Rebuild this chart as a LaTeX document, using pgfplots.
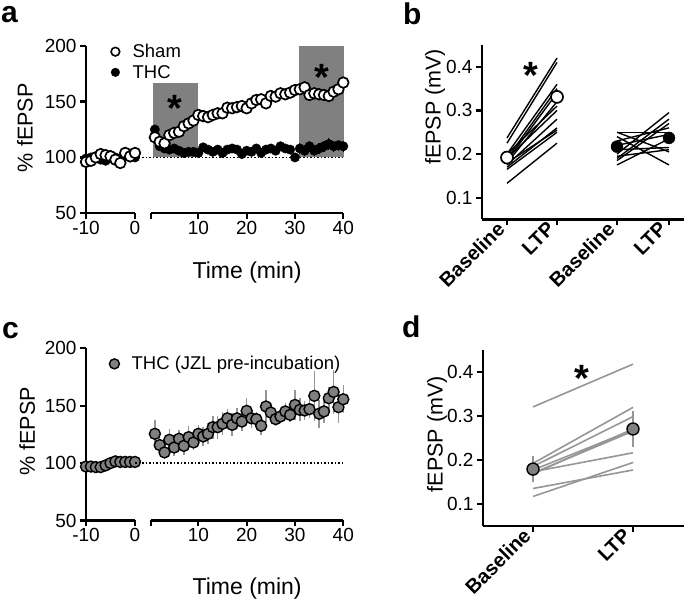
\documentclass[border=0pt]{standalone}
\usepackage{fontspec}
\setmainfont{Liberation Sans}
\usepackage{pgfplots}
\usepackage{pgfplotstable}
\pgfplotsset{compat=1.18}

\definecolor{boxgray}{RGB}{128,128,128}
\definecolor{jzl}{RGB}{128,128,128}
\definecolor{lgray}{RGB}{150,150,150}

% time courses: t, value, sem
\pgfplotstableread{
t y e
-10 96 2
-9 97 2
-8 100 2
-7 103 2
-6 102 2
-5 101 2
-4 98 2
-3 95 2
-2 104 2
-1 101 2
0 104 2
}\shambase
\pgfplotstableread{
t y e
-10 99 2
-9 100 2
-8 101 2
-7 98 2
-6 97 2
-5 102 2
-4 100 2
-3 99 2
-2 101 2
-1 100 2
0 100 2
}\thcbase
\pgfplotstableread{
t y e
1 118 3
2 114 3
3 112.6 3
4 120 3
5 122 3
6 123 3
7 128 3
8 130.5 3
9 133 3
10 138 3
11 137 3
12 136 3
13 138 3
14 139.5 3
15 139.5 4
16 144.5 4
17 144 4
18 145 4
19 146 4
20 144 4
21 148.4 4
22 151.4 4
23 152 4
24 148.4 4
25 155 4
26 154.4 4
27 157.4 4
28 156.5 4
29 158 4
30 160.3 4
31 161 4
32 162.7 4
33 155.9 5
34 157.4 5
35 156.5 5
36 155.9 5
37 155 5
38 158.8 5
39 161 5
40 167 5
}\shampost
\pgfplotstableread{
t y e
1 125 4
2 110 4
3 108 4
4 107 4
5 108 4
6 106 4
7 104 4
8 105 4
9 105 4
10 104 4
11 109 4
12 107 4
13 105 4
14 107 4
15 104 4
16 107 4
17 108 4
18 107 4
19 103 4
20 106 4
21 105 4
22 108 4
23 104 4
24 107 4
25 108 4
26 106 4
27 110 4
28 108 4
29 107 4
30 100 4
31 108 5
32 106 5
33 110 5
34 106 5
35 108 5
36 110 5
37 112 5
38 110 5
39 111 5
40 110 5
}\thcpost
\pgfplotstableread{
t y e
-10 97 1.5
-9 97 1.5
-8 96.5 1.5
-7 96.5 1.5
-6 98 1.5
-5 100 1.5
-4 101.5 1.5
-3 101 1.5
-2 101 1.5
-1 101 1.5
0 101 1.5
}\jzlbase
\pgfplotstableread{
t y e
1 125.5 12
2 115.7 8
3 109.3 6
4 120.3 9
5 113.6 7
6 121.2 8
7 115 8
8 122.6 10
9 118 7
10 125.5 8
11 123.2 8
12 125.5 9
13 131.3 10
14 131.3 10
15 134.2 10
16 139 8
17 133.3 10
18 139 9
19 136.2 8
20 145.5 11
21 139 8
22 138.3 6
23 132.5 8
24 149.3 14
25 144 8
26 138.3 6
27 140.6 6
28 145 7
29 142 6
30 150.7 13
31 146.4 10
32 145.8 8
33 147 8
34 158.6 22
35 143 12
36 145 10
37 156.5 10
38 162 19
39 148.7 14
40 155.6 12
}\jzlpost

\newcommand{\pl}[1]{{\bfseries\fontsize{20}{20}\selectfont #1}}

\pgfplotsset{
  panel/.style={
    scale only axis, clip=false,
    axis x line*=bottom, axis y line*=left,
    axis line style={-, line width=2.2pt, black},
    tick style={line width=2.2pt, black},
    major tick length=6pt,
    tick align=outside,
    ticklabel style={font=\fontsize{19}{21}\selectfont},
    label style={font=\fontsize{21.5}{23}\selectfont},
    xticklabel style={inner sep=2pt},
  },
  pairtick/.style={
    xticklabel style={xshift=-6pt, rotate=45, anchor=east, inner sep=0pt},
  },
  mylegend/.style={
    legend style={draw=none, fill=none, font=\fontsize{18.5}{20}\selectfont,
      row sep=6pt, inner sep=0pt, nodes={inner sep=0pt}},
    legend cell align=left,
  },
  legmark/.style={
    legend image code/.code={\path (0pt,-1pt) (26pt,1pt); \draw[##1] plot coordinates {(9pt,0pt)};},
  },
  sham/.style={only marks, mark=*, mark size=5.3pt,
    mark options={fill=white, draw=black, line width=1.7pt},
    error bars/y dir=both, error bars/y explicit,
    error bars/error bar style={line width=1.3pt, black}, error bars/error mark=none},
  thc/.style={only marks, mark=*, mark size=4.7pt,
    mark options={fill=black, draw=black},
    error bars/y dir=both, error bars/y explicit,
    error bars/error bar style={line width=1.3pt, black}, error bars/error mark=none},
  jzl/.style={only marks, mark=*, mark size=5.5pt,
    mark options={fill=jzl, draw=black, line width=1.4pt},
    error bars/y dir=both, error bars/y explicit,
    error bars/error bar style={line width=1.5pt, lgray}, error bars/error mark=none},
}

\begin{document}
\begin{tikzpicture}[x=1pt,y=1pt]
\path[use as bounding box] (0,0) rectangle (685,601);

% panel letters
\node[anchor=base west, inner sep=0pt, font=\bfseries\fontsize{30}{30}\selectfont] at (1,578) {a};
\node[anchor=base west, inner sep=0pt, font=\bfseries\fontsize{30}{30}\selectfont] at (403,576) {b};
\node[anchor=base west, inner sep=0pt, font=\bfseries\fontsize{30}{30}\selectfont] at (2,262) {c};
\node[anchor=base west, inner sep=0pt, font=\bfseries\fontsize{30}{30}\selectfont] at (402,263) {d};

% ---------- panel a, left piece
\begin{axis}[panel, mylegend, width=49pt, height=167.6pt, at={(86pt,387.7pt)}, anchor=south west,
  xmin=-10, xmax=0, ymin=50, ymax=200,
  xtick={-10,0}, xticklabels={-10,0},
  ytick={50,100,150,200}, yticklabels={50,100,150,200},
  ylabel={\% fEPSP},
  ylabel style={at={(axis description cs:-1.245,0.51)}, anchor=center},
  legend style={at={(axis description cs:0.408,1.01)}, anchor=north west}]
\addlegendimage{only marks, mark=*, mark size=4.3pt, mark options={fill=white, draw=black, line width=1.6pt}, legmark}
\addlegendentry{Sham}
\addlegendimage{only marks, mark=*, mark size=4.3pt, mark options={fill=black}, legmark}
\addlegendentry{THC}
\addplot[forget plot, thc] table[x=t, y=y, y error=e] {\thcbase};
\addplot[forget plot, sham] table[x=t, y=y, y error=e] {\shambase};
\end{axis}

% ---------- panel a, right piece
\begin{axis}[panel, width=192.3pt, height=167.6pt, at={(151pt,387.7pt)}, anchor=south west,
  axis y line=none,
  xmin=0.2, xmax=40, ymin=50, ymax=200,
  xtick={0.2,10,20,30,40}, xticklabels={,10,20,30,40},
  xlabel={Time (min)},
  xlabel style={at={(axis description cs:0.5,0)}, anchor=center, yshift=-59pt, font=\fontsize{23}{24}\selectfont}]
\fill[boxgray] (axis cs:0.6,100) rectangle (axis cs:10,167);
\fill[boxgray] (axis cs:30.8,100) rectangle (axis cs:40.1,200);
\draw[line width=1.5pt, dotted] (axis cs:-3.1,100) -- (axis cs:40,100);
\node[font=\bfseries\fontsize{38}{38}\selectfont] at (axis cs:5.2,144) {*};
\node[font=\bfseries\fontsize{38}{38}\selectfont] at (axis cs:35.5,172) {*};
\addplot[thc] table[x=t, y=y, y error=e] {\thcpost};
\addplot[sham] table[x=t, y=y, y error=e] {\shampost};
\end{axis}

% ---------- panel b
\begin{axis}[panel, pairtick, width=202pt, height=174.5pt, at={(482pt,381.5pt)}, anchor=south west,
  xmin=0, xmax=4.04, ymin=0.05, ymax=0.45,
  xtick={0.5,1.5,2.7,3.74}, xticklabels={\pl{Baseline},\pl{LTP},\pl{Baseline},\pl{LTP}},
  ytick={0.1,0.2,0.3,0.4}, yticklabels={0.1,0.2,0.3,0.4},
  ylabel={fEPSP (mV)},
  ylabel style={at={(axis description cs:-0.233,0.645)}, anchor=center}]
\addplot[black, line width=1.4pt] coordinates {(0.5,0.237) (1.5,0.42)};
\addplot[black, line width=1.4pt] coordinates {(0.5,0.225) (1.5,0.41)};
\addplot[black, line width=1.4pt] coordinates {(0.5,0.20) (1.5,0.36)};
\addplot[black, line width=1.4pt] coordinates {(0.5,0.19) (1.5,0.35)};
\addplot[black, line width=1.4pt] coordinates {(0.5,0.185) (1.5,0.34)};
\addplot[black, line width=1.4pt] coordinates {(0.5,0.18) (1.5,0.32)};
\addplot[black, line width=1.4pt] coordinates {(0.5,0.19) (1.5,0.30)};
\addplot[black, line width=1.4pt] coordinates {(0.5,0.175) (1.5,0.28)};
\addplot[black, line width=1.4pt] coordinates {(0.5,0.17) (1.5,0.26)};
\addplot[black, line width=1.4pt] coordinates {(0.5,0.165) (1.5,0.25)};
\addplot[black, line width=1.4pt] coordinates {(0.5,0.133) (1.5,0.225)};
\addplot[black, line width=1.4pt] coordinates {(0.5,0.20) (1.5,0.31)};
\addplot[black, line width=1.4pt] coordinates {(0.5,0.18) (1.5,0.255)};
\addplot[black, line width=1.4pt] coordinates {(2.7,0.25) (3.74,0.25)};
\addplot[black, line width=1.4pt] coordinates {(2.7,0.25) (3.74,0.205)};
\addplot[black, line width=1.4pt] coordinates {(2.7,0.20) (3.74,0.295)};
\addplot[black, line width=1.4pt] coordinates {(2.7,0.19) (3.74,0.28)};
\addplot[black, line width=1.4pt] coordinates {(2.7,0.185) (3.74,0.27)};
\addplot[black, line width=1.4pt] coordinates {(2.7,0.24) (3.74,0.175)};
\addplot[black, line width=1.4pt] coordinates {(2.7,0.175) (3.74,0.235)};
\addplot[black, line width=1.4pt] coordinates {(2.7,0.21) (3.74,0.215)};
\addplot[black, line width=1.4pt] coordinates {(2.7,0.23) (3.74,0.26)};
\addplot[black, line width=1.4pt] coordinates {(2.7,0.195) (3.74,0.21)};
\addplot[black, line width=1.4pt] coordinates {(2.7,0.22) (3.74,0.245)};
\addplot[only marks, mark=*, mark size=6pt, mark options={fill=white, draw=black, line width=1.7pt}]
  coordinates {(0.5,0.192) (1.5,0.331)};
\addplot[only marks, mark=*, mark size=6pt, mark options={fill=black}]
  coordinates {(2.7,0.217) (3.74,0.237)};
\node[font=\bfseries\fontsize{38}{38}\selectfont] at (axis cs:0.98,0.38) {*};
\end{axis}

% ---------- panel c, left piece
\begin{axis}[panel, mylegend, width=49pt, height=172.2pt, at={(86pt,80.5pt)}, anchor=south west,
  xmin=-10, xmax=0, ymin=50, ymax=200,
  xtick={-10,0}, xticklabels={-10,0},
  ytick={50,100,150,200}, yticklabels={50,100,150,200},
  ylabel={\% fEPSP},
  ylabel style={at={(axis description cs:-1.2,0.517)}, anchor=center},
  legend style={at={(axis description cs:0.388,0.954)}, anchor=north west}]
\addlegendimage{only marks, mark=*, mark size=5pt, mark options={fill=jzl, draw=black, line width=1.4pt}, legmark}
\addlegendentry{THC (JZL pre-incubation)}
\addplot[forget plot, jzl] table[x=t, y=y, y error=e] {\jzlbase};
\end{axis}

% ---------- panel c, right piece
\begin{axis}[panel, width=192.3pt, height=172.2pt, at={(151pt,80.5pt)}, anchor=south west,
  axis y line=none,
  xmin=0.2, xmax=40, ymin=50, ymax=200,
  xtick={0.2,10,20,30,40}, xticklabels={,10,20,30,40},
  xlabel={Time (min)},
  xlabel style={at={(axis description cs:0.5,0)}, anchor=center, yshift=-68pt, font=\fontsize{23}{24}\selectfont}]
\draw[line width=1.5pt, dotted] (axis cs:-3.1,100) -- (axis cs:40,100);
\addplot[jzl] table[x=t, y=y, y error=e] {\jzlpost};
\end{axis}

% ---------- panel d
\begin{axis}[panel, pairtick, width=201pt, height=176.4pt, at={(483pt,75pt)}, anchor=south west,
  xmin=0, xmax=4.02, ymin=0.05, ymax=0.45,
  xtick={1,3}, xticklabels={\pl{Baseline},\pl{LTP}},
  ytick={0.1,0.2,0.3,0.4}, yticklabels={0.1,0.2,0.3,0.4},
  ylabel={fEPSP (mV)},
  ylabel style={at={(axis description cs:-0.229,0.52)}, anchor=center}]
\addplot[lgray, line width=1.6pt] coordinates {(1,0.32) (3,0.417)};
\addplot[lgray, line width=1.6pt] coordinates {(1,0.192) (3,0.319)};
\addplot[lgray, line width=1.6pt] coordinates {(1,0.185) (3,0.298)};
\addplot[lgray, line width=1.6pt] coordinates {(1,0.177) (3,0.268)};
\addplot[lgray, line width=1.6pt] coordinates {(1,0.17) (3,0.265)};
\addplot[lgray, line width=1.6pt] coordinates {(1,0.173) (3,0.216)};
\addplot[lgray, line width=1.6pt] coordinates {(1,0.168) (3,0.27)};
\addplot[lgray, line width=1.6pt] coordinates {(1,0.135) (3,0.177)};
\addplot[lgray, line width=1.6pt] coordinates {(1,0.117) (3,0.194)};
\addplot[only marks, mark=*, mark size=6pt, mark options={fill=jzl, draw=black, line width=1.4pt},
  error bars/y dir=both, error bars/y explicit, error bars/error bar style={line width=1.5pt, lgray}, error bars/error mark=none]
  coordinates {(1,0.179) +- (0,0.03) (3,0.27) +- (0,0.04)};
\node[font=\bfseries\fontsize{38}{38}\selectfont] at (axis cs:1.98,0.385) {*};
\end{axis}
\end{tikzpicture}
\end{document}
